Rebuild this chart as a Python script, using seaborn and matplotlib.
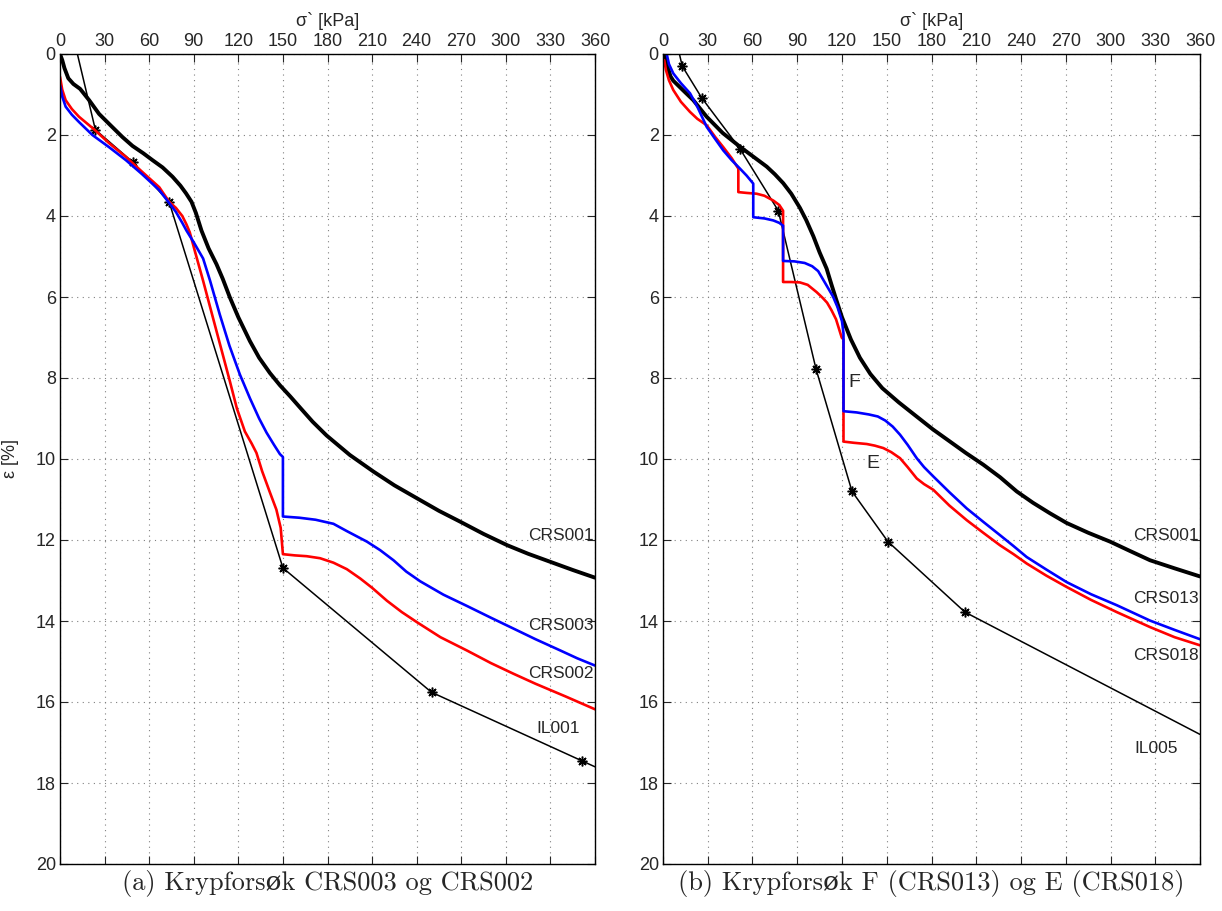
import matplotlib
matplotlib.use("Agg")
import matplotlib.pyplot as plt
import numpy as np
import pandas as pd
import seaborn as sns

# ── data: (sigma' [kPa], strain [%]) ───────────────────────────────────────
# (a) left panel
crs001_a_s = [0, 1.5, 3, 5.6, 9, 13.5, 19.6, 26.3, 33.7, 42, 48.8, 56, 62.2, 69, 75.7,
              81, 84.8, 88.5, 91.5, 95.2, 100, 105.3, 109.5, 114.3, 120, 127.8, 134,
              141.3, 148, 154.8, 162, 170, 179.4, 195, 210.9, 225, 240.2, 255, 269.4,
              285, 301, 315, 330, 345, 360]
crs001_a_e = [0, 0.15, 0.35, 0.6, 0.74, 0.86, 1.14, 1.48, 1.75, 2.05, 2.27, 2.45, 2.62,
              2.8, 3.03, 3.25, 3.44, 3.65, 3.93, 4.36, 4.8, 5.19, 5.55, 6.01, 6.5, 7.09,
              7.5, 7.88, 8.18, 8.45, 8.75, 9.08, 9.42, 9.9, 10.31, 10.65, 10.97, 11.28,
              11.55, 11.85, 12.13, 12.34, 12.54, 12.74, 12.93]

crs003_s = [0, 1.5, 3.8, 8, 12.8, 21.8, 33, 44.3, 55, 66.8, 73.5, 78, 82.3, 85.1, 90,
            96.3, 101, 107.5, 114, 121, 127.8, 134, 139, 144, 148, 150, 150, 161, 172,
            184, 193, 206.5, 215.4, 224.4, 233, 242.4, 258, 273.9, 290, 305.3, 320,
            336.8, 348, 360]
crs003_e = [0.77, 1.05, 1.3, 1.5, 1.68, 2.0, 2.3, 2.62, 2.96, 3.36, 3.68, 3.9, 4.17,
            4.36, 4.65, 5.05, 5.6, 6.43, 7.2, 7.91, 8.5, 9.0, 9.35, 9.65, 9.88, 9.95,
            11.42, 11.45, 11.5, 11.6, 11.78, 12.04, 12.25, 12.5, 12.78, 13.02, 13.35,
            13.63, 13.92, 14.19, 14.45, 14.73, 14.92, 15.1]

crs002_s = [0, 1.5, 3.8, 8, 12.8, 22.9, 33, 44.3, 55, 66.8, 73.5, 78, 82.3, 85, 87.3,
            90.7, 96.3, 105.3, 114.3, 119, 124.4, 129, 132.2, 136, 141, 145.6, 148.5,
            150, 158, 166, 175, 184, 193, 202, 210, 220, 230, 240.2, 256, 273.9, 290,
            305, 320, 340, 360]
crs002_e = [0.56, 0.88, 1.14, 1.36, 1.55, 1.86, 2.2, 2.54, 2.9, 3.29, 3.65, 3.8, 4.0,
            4.2, 4.4, 4.86, 5.6, 6.84, 8.08, 8.75, 9.32, 9.62, 9.85, 10.3, 10.8, 11.25,
            11.7, 12.35, 12.38, 12.4, 12.45, 12.56, 12.72, 12.95, 13.18, 13.5, 13.78,
            14.03, 14.4, 14.73, 15.04, 15.3, 15.55, 15.86, 16.18]

il001_s = [11.7, 23.8, 49, 73.5, 150, 250, 351, 360]
il001_e = [0, 1.87, 2.67, 3.66, 12.69, 15.76, 17.45, 17.6]

# (b) right panel
crs001_b_s = [1.3, 3, 5, 6.9, 13, 20.3, 29.3, 40, 51.6, 60, 69.5, 75, 80.6, 86, 91.8,
              96, 100.8, 105, 109.7, 113, 116, 120, 126, 132, 139, 147, 158, 170, 181,
              192.4, 203, 214.7, 226, 237.1, 248, 259.4, 270.6, 285, 299.7, 313,
              326.5, 343, 360]
crs001_b_e = [0, 0.3, 0.55, 0.66, 0.88, 1.14, 1.55, 1.95, 2.29, 2.52, 2.78, 2.97, 3.19,
              3.45, 3.8, 4.1, 4.5, 4.9, 5.3, 5.7, 6.05, 6.5, 7.05, 7.5, 7.9, 8.25, 8.6,
              8.95, 9.27, 9.57, 9.85, 10.14, 10.45, 10.8, 11.08, 11.34, 11.58, 11.82,
              12.04, 12.27, 12.5, 12.7, 12.9]

crs013_s = [2.5, 4, 6.9, 12, 18.1, 23, 29.3, 35, 40.4, 46, 51.6, 56, 60.5, 60.5, 68, 74,
            78, 80.5, 80.5, 88, 95, 100, 104, 107.5, 111, 114, 117, 120, 121, 121,
            129.8, 138, 144, 149, 154, 158.9, 164, 170.1, 175, 181.2, 192, 203.6, 215,
            225.9, 235, 243.8, 257, 270.6, 287, 304.2, 326.5, 343, 360]
crs013_e = [0, 0.25, 0.48, 0.72, 0.97, 1.3, 1.8, 2.1, 2.38, 2.62, 2.83, 3.0, 3.2, 4.03,
            4.06, 4.11, 4.17, 4.24, 5.11, 5.12, 5.16, 5.24, 5.36, 5.58, 5.8, 5.99, 6.25,
            6.6, 6.9, 8.82, 8.85, 8.9, 8.95, 9.05, 9.2, 9.4, 9.65, 9.98, 10.2, 10.43,
            10.82, 11.22, 11.56, 11.88, 12.15, 12.42, 12.73, 13.04, 13.34, 13.61,
            13.99, 14.22, 14.45]

crs018_s = [0.8, 2, 4, 6.9, 12, 18.1, 23, 29.3, 35, 40.4, 46, 50.5, 50.5, 56, 62.8, 68,
            74, 78, 80.5, 80.5, 86, 91.8, 97, 103, 107, 110, 113, 116, 119.8, 121, 121,
            128, 136.6, 142, 147.7, 153, 158.9, 164, 170.1, 175, 181.2, 192, 203.6,
            215, 225.9, 235, 243.8, 257, 270.6, 287, 304.2, 326.5, 343, 360]
crs018_e = [0.15, 0.4, 0.65, 0.89, 1.18, 1.43, 1.6, 1.76, 2.05, 2.3, 2.57, 2.83, 3.41,
            3.43, 3.45, 3.5, 3.62, 3.73, 3.87, 5.63, 5.63, 5.64, 5.7, 5.88, 6.02, 6.14,
            6.33, 6.55, 7.0, 7.05, 9.57, 9.6, 9.63, 9.67, 9.73, 9.83, 9.98, 10.2, 10.48,
            10.62, 10.76, 11.15, 11.51, 11.83, 12.13, 12.35, 12.58, 12.88, 13.16,
            13.48, 13.78, 14.15, 14.4, 14.6]

il005_s = [11, 12.9, 25.9, 51.6, 77.3, 102.6, 126.7, 150.8, 202.4, 360]
il005_e = [0, 0.3, 1.08, 2.34, 3.87, 7.78, 10.8, 12.04, 13.78, 16.8]

x_ticks = list(range(0, 361, 30))
y_ticks = list(range(0, 21, 2))

# ── styling ────────────────────────────────────────────────────────────────
sns.set_style("white")
plt.rcParams["font.family"] = ["Liberation Sans", "DejaVu Sans"]
CAPTION_FONT = ["cmr10", "DejaVu Serif"]

fig = plt.figure(figsize=(12.22, 9.11), dpi=100)
ax_a = fig.add_axes([60 / 1222, 47 / 911, 535 / 1222, 810 / 911])
ax_b = fig.add_axes([663 / 1222, 47 / 911, 537 / 1222, 810 / 911])

STAR = (8, 2, 0)


def curve(ax, s, e, color, lw, markers=False):
    df = pd.DataFrame({"s": s, "e": e})
    kw = {}
    if markers:
        kw = dict(marker=STAR, markevery=list(range(1, len(s) - 1)),
                  markersize=7, markeredgewidth=1.1, markeredgecolor=color)
    sns.lineplot(data=df, x="s", y="e", sort=False, estimator=None, ax=ax,
                 color=color, lw=lw, **kw)


def style_ax(ax):
    ax.set_xlim(0, 360)
    ax.set_ylim(20, 0)
    ax.set_xticks(x_ticks)
    ax.set_yticks(y_ticks)
    ax.xaxis.tick_top()
    ax.xaxis.set_label_position("top")
    ax.tick_params(direction="in", length=6, width=0.8, labelsize=13,
                   top=True, bottom=True, left=True, right=True,
                   labeltop=True, labelbottom=False, pad=3)
    ax.grid(True, linestyle=(0, (1, 4)), color="#808080", lw=0.8)
    for sp in ax.spines.values():
        sp.set_edgecolor("black")
        sp.set_linewidth(1.0)
    ax.set_xlabel("σ` [kPa]", fontsize=13, labelpad=5)
    ax.set_ylabel("")


# (a)
curve(ax_a, crs001_a_s, crs001_a_e, "black", 2.8)
curve(ax_a, il001_s, il001_e, "black", 1.1, markers=True)
curve(ax_a, crs002_s, crs002_e, "#ff0000", 1.9)
curve(ax_a, crs003_s, crs003_e, "#0000ff", 1.9)
style_ax(ax_a)
ax_a.set_ylabel("ε [%]", fontsize=13, labelpad=12)
for txt, yy in [("CRS001", 11.9), ("CRS003", 14.1), ("CRS002", 15.3), ("IL001", 16.65)]:
    ax_a.text(359 if txt != "IL001" else 350, yy, txt, ha="right", va="center", fontsize=12.5)
ax_a.text(0.5, -0.008, "(a) Krypforsøk CRS003 og CRS002", transform=ax_a.transAxes,
          ha="center", va="top", fontsize=19, family=CAPTION_FONT)

# (b)
curve(ax_b, crs001_b_s, crs001_b_e, "black", 2.8)
curve(ax_b, il005_s, il005_e, "black", 1.1, markers=True)
curve(ax_b, crs018_s, crs018_e, "#ff0000", 1.9)
curve(ax_b, crs013_s, crs013_e, "#0000ff", 1.9)
style_ax(ax_b)
for txt, yy in [("CRS001", 11.9), ("CRS013", 13.45), ("CRS018", 14.85), ("IL005", 17.15)]:
    ax_b.text(359 if txt != "IL005" else 345, yy, txt, ha="right", va="center", fontsize=12.5)
ax_b.text(128.5, 8.1, "F", ha="center", va="center", fontsize=14)
ax_b.text(140.5, 10.1, "E", ha="center", va="center", fontsize=14)
ax_b.text(0.5, -0.008, "(b) Krypforsøk F (CRS013) og E (CRS018)", transform=ax_b.transAxes,
          ha="center", va="top", fontsize=19, family=CAPTION_FONT)

fig.savefig("out.png", dpi=100, facecolor="white")
